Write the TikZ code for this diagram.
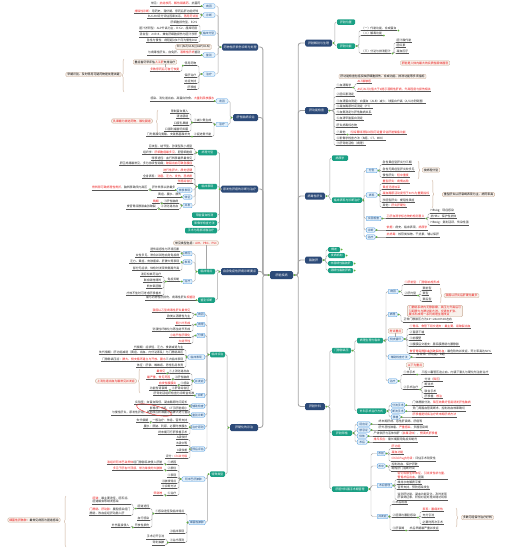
\documentclass[tikz,border=0pt]{standalone}
\usepackage{fontspec}
\setmainfont{Noto Sans CJK SC}
\usetikzlibrary{positioning}
\usetikzlibrary{calc}
\usetikzlibrary{decorations.pathreplacing}

\definecolor{mmnavy}{RGB}{44,74,120}
\definecolor{mmteal}{RGB}{26,160,132}
\definecolor{tagfill}{RGB}{224,239,251}
\definecolor{tagline}{RGB}{70,150,222}
\definecolor{tagtext}{RGB}{25,70,125}
\definecolor{notefill}{RGB}{248,241,235}
\definecolor{noteline}{RGB}{200,172,150}
\definecolor{hlred}{RGB}{235,25,25}
\definecolor{ulgray}{RGB}{85,85,85}
\definecolor{conngray}{RGB}{165,165,165}
\definecolor{dotgreen}{RGB}{96,178,62}

\newcommand{\mmfont}{\fontsize{2.9pt}{3.5pt}\selectfont}
\newcommand{\rtx}[1]{\textcolor{hlred}{#1}}
% child hangs off a bracket #1pt beside it
\newcommand{\lnk}[3][2]{\draw[conn] (#2) -| ($(#3)+(#1,0)$) -- (#3);}
\newcommand{\rnk}[3][2]{\draw[conn] (#2) -| ($(#3)+(-#1,0)$) -- (#3);}
\newcommand{\gdot}[1]{\fill[dotgreen] (#1) circle (1pt);}

\tikzset{
  mainbox/.style={fill=mmnavy, text=white, rounded corners=1.5pt, font=\fontsize{3pt}{3.5pt}\selectfont,
    inner xsep=1.5pt, inner ysep=0pt, minimum height=7pt},
  subbox/.style={fill=mmteal, text=white, rounded corners=1.2pt, font=\mmfont,
    inner xsep=1.2pt, inner ysep=0pt, minimum height=5.5pt},
  tag/.style={draw=tagline, fill=tagfill, text=tagtext, line width=0.35pt, rounded corners=1pt,
    font=\fontsize{2.8pt}{3.2pt}\selectfont, inner xsep=1.2pt, inner ysep=0pt, minimum height=4.5pt},
  note/.style={draw=noteline, fill=notefill, line width=0.35pt, rounded corners=1.2pt, font=\mmfont,
    inner xsep=1.5pt, inner ysep=0.9pt, align=left},
  leaf/.style={font=\mmfont, text=black!85, inner xsep=0.5pt, inner ysep=0.6pt, align=left,
    append after command={(\tikzlastnode.south west) edge[uline] (\tikzlastnode.south east)}},
  lleaf/.style={leaf, anchor=south east},
  rleaf/.style={leaf, anchor=south west},
  uline/.style={draw=ulgray, line width=0.5pt},
  conn/.style={draw=conngray, line width=0.45pt, rounded corners=1.5pt},
  spine/.style={draw=conngray, line width=0.9pt, rounded corners=2.5pt},
  brc/.style={draw=noteline, line width=0.35pt, decorate, decoration={brace, amplitude=1.8pt}},
}

\begin{document}
\begin{tikzpicture}[x=1pt, y=-1pt]
\useasboundingbox (0,0) rectangle (505,552);

% centre and main topics
\node[mainbox, minimum width=23pt, minimum height=8pt] (root) at (281.5,275) {肝脏疾病};
\node[mainbox, minimum width=36pt] (L1) at (240,47) {药物性肝损伤诊断与处理};
\node[mainbox, minimum width=25pt] (L2) at (245.5,117.5) {肝性脑病诊治};
\node[mainbox, minimum width=37pt] (L3) at (239.5,189) {原发性肝癌的诊断与治疗};
\node[mainbox, minimum width=37pt] (L4) at (239.5,271.5) {自身免疫性肝病诊断要点};
\node[mainbox, minimum width=28pt] (L5) at (244,427.5) {肝硬化的诊治};
\node[mainbox, minimum width=27pt] (R1) at (318.5,43) {肝脏解剖与生理};
\node[mainbox, minimum width=23pt] (R2) at (316.5,110.5) {肝功能检查};
\node[mainbox, minimum width=20pt] (R3) at (315,196) {病毒性肝炎};
\node[mainbox, minimum width=17pt] (R4) at (313.5,260) {脂肪肝};
\node[mainbox, minimum width=20pt] (R5) at (315,406.5) {肝脏外科};
\foreach \n in {L1,L2,L3,L4,L5} {\draw[spine] (root.west) -- ++(-7,0) |- (\n.east);}
\foreach \n in {R1,R2,R3,R4,R5} {\draw[spine] (root.east) -- ++(5,0) |- (\n.west);}

% 药物性肝损伤
\node[tag, minimum width=12pt] (L1a) at (209,6) {病因};
\node[tag, minimum width=12pt] (L1b) at (209,15) {诊断};
\node[tag, minimum width=13pt] (L1c) at (208.5,33) {临床分型};
\node[tag, minimum width=12pt] (L1d) at (209,55) {鉴别};
\node[tag, minimum width=12pt] (L1e) at (209,74) {治疗};
\foreach \n in {a,b,c,d,e} {\lnk[3]{L1.west}{L1\n.east}}
\node[lleaf] (L1a1) at (201,6) {常见：\rtx{抗结核药、解热镇痛药}、抗菌药};
\draw[conn] (L1a.west) -- (L1a1.south east);
\foreach \y/\txt [count=\i] in {13.5/{\rtx{排除性诊断}：用药史、潜伏期、停药后肝功能好转},
    18.5/{RUCAM评分评估因果关系，\rtx{再用药试验}}}
  {\node[lleaf] (L1b\i) at (199,\y) {\txt}; \lnk{L1b.west}{L1b\i.south east}}
\foreach \y/\txt [count=\i] in {25/{肝细胞损伤型，R≥5},
    31/{胆汁淤积型：ALP升高为主，R≤2，瘙痒明显},
    37/{混合型：2<R<5，兼有肝细胞损伤与胆汁淤积},
    42.5/{急性与慢性：病程超过6个月为慢性DILI}}
  {\node[lleaf] (L1c\i) at (198,\y) {\txt}; \lnk{L1c.west}{L1c\i.south east}}
\node[note] (L1n1) at (193.5,47) {R＝(ALT/ULN)/(ALP/ULN)};
\node[lleaf] (L1d1) at (201,55) {与病毒性肝炎、自免肝、\rtx{酒精性肝病}鉴别};
\draw[conn] (L1d.west) -- (L1d1.south east);
\foreach \y/\txt [count=\i] in {65.5/停用药物, 77.5/保肝治疗, 83.5/对症支持, 89.5/肝移植}
  {\node[lleaf] (L1e\i) at (197,\y) {\txt}; \lnk{L1e.west}{L1e\i.south east}}
\node[lleaf] (L1e5) at (180,71.5) {\rtx{多数停药后可自行恢复}};
\lnk{L1e1.south west}{L1e5.south east}
\node[note] (L1n2) at (155,62) {重症者尽早评估\rtx{人工肝}支持治疗};
\draw[conn] (L1e5.north) -- (L1e5.north |- L1n2.south);
\draw[brc] (124,92) -- (124,59);
\node[note] (L1n3) at (93.5,74.5) {早期识别、及时停用可疑药物是处理关键};

% 肝性脑病
\node[tag, minimum width=12pt] (L2a) at (222,101) {诱因};
\node[tag, minimum width=12pt] (L2b) at (222,124.5) {治疗};
\foreach \n in {a,b} {\lnk{L2.west}{L2\n.east}}
\node[lleaf] (L2a1) at (215,101) {感染、消化道出血、高蛋白饮食、\rtx{大量利尿放腹水}};
\draw[conn] (L2a.west) -- (L2a1.south east);
\node[lleaf] (L2b1) at (212,122.5) {①减少氨生成};
\node[lleaf] (L2b2) at (212,136.5) {②促进氨代谢};
\foreach \n in {1,2} {\lnk{L2b.west}{L2b\n.south east}}
\foreach \y/\txt [count=\i] in {113.5/限制蛋白摄入, 118.5/清洁肠道, 125.5/口服乳果糖, 131.5/口服利福昔明抑菌}
  {\node[lleaf] (L2c\i) at (189,\y) {\txt}; \lnk{L2b1.south west}{L2c\i.south east}}
\draw[brc] (158,133) -- (158,110);
\node[note] (L2n) at (132,121) {\rtx{乳果糖为首选药物，酸化肠道}};
\node[lleaf] (L2b3) at (191,136.5) {门冬氨酸鸟氨酸、支链氨基酸补充};
\draw[conn] (L2b2.south west) -- (L2b3.south east);

% 原发性肝癌
\node[subbox, minimum width=19pt] (L3a) at (207.5,152.5) {病理分型};
\node[subbox, minimum width=19pt] (L3b) at (207.5,186.5) {临床表现};
\node[subbox, minimum width=25pt] (L3c) at (204.5,215) {甲胎蛋白检测};
\node[subbox, minimum width=25pt] (L3d) at (204.5,223) {影像学检查方法};
\node[subbox, minimum width=32pt] (L3e) at (201,230.5) {手术与局部消融治疗};
\foreach \n in {a,b,c,d,e} {\lnk[2.5]{L3.west}{L3\n.east}}
\foreach \y/\txt [count=\i] in {148.5/巨块型、结节型、弥漫型及小癌型,
    154.5/{组织学：\rtx{肝细胞癌最多见}，胆管细胞癌},
    160.5/转移途径：血行转移最早最常见}
  {\node[lleaf] (L3a\i) at (193,\y) {\txt}; \lnk{L3a.west}{L3a\i.south east}}
\foreach \y/\txt [count=\i] in {165.5/{肝区疼痛最常见，多为持续性钝痛；\rtx{破裂出血可致急腹症}},
    172.5/{\rtx{进行性肝大，质地坚硬}},
    178.5/{全身表现：\rtx{消瘦、乏力、发热、恶病质}},
    183.5/{\rtx{伴癌综合征}}}
  {\node[lleaf] (L3b\i) at (193,\y) {\txt}; \lnk{L3b.west}{L3b\i.south east}}
\node[tag, minimum width=15pt] (L3t1) at (184.5,190) {转移表现};
\node[tag, minimum width=9pt] (L3t2) at (187.5,197) {体征};
\node[tag, minimum width=9pt] (L3t3) at (187.5,205.5) {并发};
\foreach \n in {1,2,3} {\lnk[3]{L3b.west}{L3t\n.east}}
\node[lleaf] (L3p1) at (176,190) {肝外转移以肺最多};
\draw[conn] (L3t1.west) -- (L3p1.south east);
\node[lleaf] (L3p2) at (148,190) {\rtx{骨转移可致病理性骨折}，脑转移致颅内高压};
\lnk{L3p1.south west}{L3p2.south east}
\node[lleaf] (L3p3) at (182,197) {黄疸、腹水、脾大};
\draw[conn] (L3t2.west) -- (L3p3.south east);
\node[lleaf] (L3q1) at (179,203.5) {①肝性脑病};
\node[lleaf] (L3q2) at (179,209) {②消化道出血};
\foreach \n in {1,2} {\lnk{L3t3.west}{L3q\n.south east}}
\node[lleaf] (L3q3) at (159.5,203.5) {\rtx{晚期}};
\node[lleaf] (L3q4) at (156.5,209) {食管胃底静脉曲张破裂};
\lnk{L3q1.south west}{L3q3.south east}
\lnk{L3q2.south west}{L3q4.south east}

% 自身免疫性肝病
\node[subbox, minimum width=17pt] (L4a) at (206.5,271.5) {临床特点};
\node[subbox, minimum width=17pt] (L4b) at (206.5,300) {鉴别诊断};
\foreach \n in {a,b} {\lnk[2.5]{L4.west}{L4\n.east}}
\node[note] (L4n) at (196,243) {常见类型包括：\rtx{AIH、PBC、PSC}};
\draw[conn] (L4a.north) -- (L4a.north |- L4n.south);
\node[tag, minimum width=9pt] (L4t1) at (187.5,253.5) {病因};
\node[tag, minimum width=9pt] (L4t2) at (187.5,262) {表现};
\node[tag, minimum width=9pt] (L4t3) at (187.5,281.5) {治疗};
\foreach \n in {1,2,3} {\lnk[3]{L4a.west}{L4t\n.east}}
\foreach \y/\txt [count=\i] in {251.5/遗传易感性与环境因素, 257.5/女性多见，常合并其他自身免疫病}
  {\node[lleaf] (L4u\i) at (180,\y) {\txt}; \lnk{L4t1.west}{L4u\i.south east}}
\foreach \y/\txt [count=\i] in {263.5/乏力、黄疸、皮肤瘙痒、肝脾大等表现, 270.5/部分无症状，体检时发现转氨酶升高}
  {\node[lleaf] (L4v\i) at (180,\y) {\txt}; \lnk{L4t2.west}{L4v\i.south east}}
\node[lleaf] (L4m) at (180,281.5) {免疫抑制};
\draw[conn] (L4t3.west) -- (L4m.south east);
\foreach \y/\txt [count=\i] in {276.5/泼尼松单药治疗, 282.5/联合硫唑嘌呤, 288.5/熊去氧胆酸, 295.5/疗效不佳时可考虑肝移植术}
  {\node[lleaf] (L4w\i) at (162,\y) {\txt}; \lnk{L4m.south west}{L4w\i.south east}}
\node[lleaf] (L4b1) at (196,300) {需与药物性肝损伤、病毒性肝炎\rtx{相鉴别}};
\draw[conn] (L4b.west) -- (L4b1.south east);

% 肝硬化
\node[subbox, minimum width=15pt] (L5a) at (217.5,354.5) {临床诊治};
\node[subbox, minimum width=15pt] (L5b) at (217.5,474) {特殊类型};
\foreach \n in {a,b} {\lnk{L5.west}{L5\n.east}}
\foreach \y/\w/\txt [count=\i] in {314.5/8/病因, 324.5/8/病理, 335.5/8/分类, 357/17/临床表现,
    381/10/并发症, 395.5/9/诊断, 406/13/辅助检查, 415/13/鉴别诊断, 427/13/治疗原则, 449/13/预后评估}
  {\node[tag, minimum width=\w pt, anchor=east] (L5t\i) at (205,\y) {\txt}; \lnk{L5a.west}{L5t\i.east}}
\foreach \y/\txt [count=\i] in {312.5/{\rtx{我国以乙型病毒性肝炎最常见}}, 318.5/欧美以酒精性为主}
  {\node[lleaf] (L5u\i) at (191,\y) {\txt}; \lnk{L5t1.west}{L5u\i.south east}}
\foreach \y/\txt [count=\i] in {325.5/{\rtx{假小叶形成}}, 331.5/弥漫性纤维化与再生结节形成}
  {\node[lleaf] (L5v\i) at (191,\y) {\txt}; \lnk{L5t2.west}{L5v\i.south east}}
\foreach \y/\txt [count=\i] in {337.5/{\rtx{小结节性肝硬化}}, 343.5/{\rtx{大结节性}}}
  {\node[lleaf] (L5w\i) at (191,\y) {\txt}; \lnk{L5t3.west}{L5w\i.south east}}
\foreach \y/\txt [count=\i] in {349.5/代偿期：症状轻，乏力、食欲减退为主,
    354.5/失代偿期：肝功能减退（黄疸、出血、内分泌紊乱）与门静脉高压,
    361.5/{门静脉高压症：\rtx{脾大、侧支循环建立与开放、腹水}三大临床表现},
    367.5/体征：肝掌、蜘蛛痣、男性乳房发育}
  {\node[lleaf] (L5x\i) at (184,\y) {\txt}; \lnk{L5t4.west}{L5x\i.south east}}
\foreach \y/\txt [count=\i] in {373.5/①上消化道出血, 379.5/②肝性脑病, 385.5/③感染, 390.5/④肝肾综合征}
  {\node[lleaf] (L5c\i) at (190,\y) {\txt}; \lnk{L5t5.west}{L5c\i.south east}}
\foreach \y/\x/\txt [count=\i] in {373.5/166/{\rtx{最常见}}, 379.5/171/{\rtx{最严重，常见死因}},
    385.5/177/{\rtx{自发性腹膜炎}}, 390.5/168/功能性肾衰竭}
  {\node[lleaf] (L5d\i) at (\x,\y) {\txt}; \lnk{L5c\i.south west}{L5d\i.south east}}
\draw[brc] (140,393) -- (140,369);
\node[note] (L5n1) at (116,381) {\rtx{上消化道出血为最常见并发症}};
\node[lleaf] (L5e1) at (195,395.5) {肝穿刺活组织检查为诊断金标准};
\draw[conn] (L5t6.west) -- (L5e1.south east);
\foreach \y/\txt [count=\i] in {404.5/实验室：白蛋白降低，凝血酶原时间延长, 410.5/影像学：B超、CT示肝脏缩小}
  {\node[lleaf] (L5f\i) at (188,\y) {\txt}; \lnk{L5t7.west}{L5f\i.south east}}
\node[lleaf] (L5g1) at (191,415) {与慢性肝炎、原发性肝癌、其他原因所致腹水及脾大进行鉴别};
\draw[conn] (L5t8.west) -- (L5g1.south east);
\draw[hlred, line width=0.35pt, rotate around={-14:(154,410)}] (154,410) ellipse [x radius=18pt, y radius=4.5pt];
\foreach \y/\txt [count=\i] in {422.5/一般治疗：休息、营养支持, 428.5/腹水：限钠、利尿，必要时放腹水, 434.5/终末期可行肝移植手术}
  {\node[lleaf] (L5h\i) at (188,\y) {\txt}; \lnk{L5t9.west}{L5h\i.south east}}
\node[lleaf] (L5h4) at (149,422.5) {失代偿期};
\lnk{L5h1.south west}{L5h4.south east}
\foreach \y/\txt [count=\i] in {439.5/A级较好, 445.5/B级中等, 452.5/C级较差, 458.5/{评分：\rtx{Child分级}}}
  {\node[lleaf] (L5m\i) at (188,\y) {\txt}; \lnk{L5t10.west}{L5m\i.south east}}

\node[tag, minimum width=23pt] (L5b1) at (193.5,479) {阿米巴肝脓肿};
\node[tag, minimum width=16pt] (L5b2) at (197,522.5) {细菌性脓肿};
\foreach \n in {1,2} {\lnk{L5b.west}{L5b\n.east}}
\foreach \y/\txt [count=\i] in {464.5/①病因, 470.5/②部位, 477.5/③表现, 483.5/④脓液特点, 488.5/⑤诊断方法, 495.5/⑥治疗}
  {\node[lleaf] (L5i\i) at (177,\y) {\txt}; \lnk{L5b1.west}{L5i\i.south east}}
\node[lleaf] (L5i7) at (163,464.5) {\rtx{溶组织阿米巴滋养体}经门静脉系统侵入肝脏};
\node[lleaf] (L5i8) at (163,470.5) {\rtx{多见于肝右叶顶部，常为单发的大脓肿}};
\node[lleaf] (L5i9) at (163,495.5) {\rtx{甲硝唑}};
\lnk{L5i1.south west}{L5i7.south east}
\lnk{L5i2.south west}{L5i8.south east}
\lnk{L5i6.south west}{L5i9.south east}
\foreach \y/\txt [count=\i] in {513.5/①感染途径及临床特点, 533.5/②临床表现, 542.5/③治疗原则}
  {\node[lleaf] (L5j\i) at (185,\y) {\txt}; \lnk{L5b2.west}{L5j\i.south east}}
\foreach \y/\txt [count=\i] in {508.5/胆道途径, 520.5/血行感染, 527.5/开放性损伤}
  {\node[lleaf] (L5k\i) at (150,\y) {\txt}; \lnk{L5j1.south west}{L5k\i.south east}}
\node[lleaf] (L5k4) at (131,504) {\rtx{胆道}：最主要途径，胆石症、\\胆道蛔虫等继发感染};
\node[lleaf] (L5k5) at (131,515.5) {\rtx{门静脉}、\rtx{肝动脉}：腹腔感染经门\\静脉，败血症经肝动脉入肝};
\foreach \n in {4,5} {\lnk{L5k1.south west}{L5k\n.south east}}
\node[lleaf] (L5k6) at (130,527.5) {外伤直接侵入};
\lnk{L5k3.south west}{L5k6.south east}
\node[lleaf] (L5k7) at (165,539) {手术切开引流};
\node[lleaf] (L5k8) at (165,545) {穿刺抽脓};
\foreach \n in {7,8} {\lnk{L5j3.south west}{L5k\n.south east}}
\draw[brc] (66,547) -- (66,496);
\node[note] (L5n2) at (34,520) {\rtx{细菌性肝脓肿}：最常见病因为胆道感染};

% 肝脏解剖与生理
\node[subbox, minimum width=18pt] (R1a) at (346,22) {肝脏位置};
\node[subbox, minimum width=18pt] (R1b) at (346,46) {肝脏功能};
\foreach \n in {a,b} {\rnk{R1.east}{R1\n.west}}
\foreach \y/\txt [count=\i] in {30.5/（一）代谢功能，合成蛋白, 35.5/（二）解毒功能, 53.5/（三）分泌与排泄胆汁}
  {\node[rleaf] (R1i\i) at (361,\y) {\txt}; \rnk{R1b.east}{R1i\i.south west}}
\foreach \y/\txt [count=\i] in {42.5/胆汁酸代谢, 47.5/胆红素, 53.5/凝血因子}
  {\node[rleaf] (R1j\i) at (396,\y) {\txt}; \rnk{R1i3.south east}{R1j\i.south west}}
\node[note] (R1n) at (425,63) {\rtx{肝脏是人体内最大的实质性腺体器官}};

% 肝功能检查
\node[note] (R2n) at (382.5,76.5) {肝功能检查包括反映肝细胞损伤、合成功能、排泄功能等多项指标};
\foreach \y/\txt [count=\i] in {87.5/①血清酶学, 96.5/②胆红素测定,
    103.5/{③血清蛋白测定：白蛋白（ALB）减少，球蛋白升高（A/G比例倒置）},
    108.5/{④凝血酶原时间测定（PT）}, 114.5/⑤血氨测定与肝性脑病关系, 120.5/⑥血清甲胎蛋白测定,
    127.5/肝炎病毒标志物, 134.5/⑦其他, 140.5/{⑧影像学检查方法（B超、CT、MRI）}, 145.5/{⑨肝穿刺活检（病理）}}
  {\node[rleaf] (R2r\i) at (336,\y) {\txt}; \rnk{R2.east}{R2r\i.south west}}
\foreach \y/\txt [count=\i] in {83.5/{\rtx{ALT最敏感}}, 91.5/{\rtx{AST/ALT比值大于2提示酒精性肝病，升高程度与损伤相关}}}
  {\node[rleaf] (R2s\i) at (357,\y) {\txt}; \rnk{R2r1.south east}{R2s\i.south west}}
\node[rleaf] (R2s3) at (350,134.5) {\rtx{吲哚菁绿清除试验可定量评估肝脏储备功能}};
\draw[conn] (R2r8.south east) -- (R2s3.south west);

% 病毒性肝炎
\node[subbox, minimum width=16pt] (R3a) at (340,158) {病原学};
\node[subbox, minimum width=30pt] (R3b) at (347,200) {临床表现与诊断治疗};
\foreach \n in {a,b} {\rnk{R3.east}{R3\n.west}}
\foreach \y/\w/\txt [count=\i] in {170.5/11/分型, 195/11/表现, 218.5/15/实验检查, 230/9/诊断, 237/9/治疗}
  {\node[tag, minimum width=\w pt, anchor=west] (R3t\i) at (366,\y) {\txt}; \rnk{R3b.east}{R3t\i.west}}
\foreach \y/\txt [count=\i] in {164.5/急性黄疸型肝炎分三期, 171.5/急性无黄疸型肝炎较多见, 177.5/{慢性肝炎：\rtx{轻中重度}}}
  {\node[rleaf] (R3u\i) at (382,\y) {\txt}; \rnk{R3t1.east}{R3u\i.south west}}
\draw[brc] (418,161) -- (418,179);
\node[note] (R3n1) at (431,170) {按病程分型};
\foreach \y/\txt [count=\i] in {183.5/{\rtx{重型肝炎：病情凶险}}, 189.5/{\rtx{黄疸迅速加深}},
    195.5/{\rtx{凝血酶原活动度低于40\%为重要指标}}, 202.5/淤胆型肝炎：梗阻性黄疸, 207.5/{其他：\rtx{肝炎肝硬化}}}
  {\node[rleaf] (R3v\i) at (382,\y) {\txt}; \rnk{R3t2.east}{R3v\i.south west}}
\draw[brc] (432,180) -- (432,208);
\node[note] (R3n2) at (468.5,194.5) {重型肝炎以肝衰竭表现为主，病死率高};
\node[rleaf] (R3w1) at (386,218.5) {\rtx{乙肝血清学标志物的检测意义}};
\draw[conn] (R3t3.east) -- (R3w1.south west);
\foreach \y/\txt [count=\i] in {213.5/HBsAg：现症感染, 218.5/抗HBs：保护性抗体, 225.5/HBeAg：复制活跃，传染性强}
  {\node[rleaf] (R3x\i) at (430,\y) {\txt}; \rnk{R3w1.south east}{R3x\i.south west}}
\node[rleaf] (R3y1) at (386,230) {\rtx{依据}：病史、临床表现、\rtx{病原学}};
\node[rleaf] (R3y2) at (386,237) {\rtx{抗病毒}：核苷类似物、干扰素，辅以保肝};
\draw[conn] (R3t4.east) -- (R3y1.south west);
\draw[conn] (R3t5.east) -- (R3y2.south west);

% 脂肪肝
\foreach \y/\w/\txt [count=\i] in {249.5/12/概述, 255.5/17/发病机制, 263.5/25/非酒精性脂肪肝, 270.5/25/酒精性脂肪肝病}
  {\node[subbox, minimum width=\w pt, minimum height=5pt, anchor=west] (R4\i) at (328,\y) {\txt}; \rnk{R4.east}{R4\i.west}}

% 肝脏外科
\node[subbox, minimum width=19pt] (R5a) at (341.5,350.5) {门静脉高压};
\node[subbox, minimum width=20pt] (R5b) at (342,433) {肝脏移植};
\node[subbox, minimum width=36pt] (R5c) at (350,489) {肝胆外科围手术期管理};
\foreach \n in {a,b,c} {\rnk{R5.east}{R5\n.west}}
\node[subbox, minimum width=26pt] (R5d) at (370,340.5) {病理生理与临床};
\node[subbox, minimum width=29pt] (R5e) at (371.5,411) {外科手术治疗方式};
\foreach \n in {d,e} {\rnk{R5a.east}{R5\n.west}}
\foreach \y/\w/\txt [count=\i] in {291.5/10/病因, 314.5/9/病理, 339/15/侧支循环, 357/22/辅助检查方法, 381/9/治疗}
  {\node[tag, minimum width=\w pt, anchor=west] (R5p\i) at (388,\y) {\txt}; \rnk{R5d.east}{R5p\i.west}}
\node[rleaf] (R5q1) at (404,284.5) {\rtx{①肝前型：门静脉血栓形成}};
\node[rleaf] (R5q2) at (404,295.5) {②肝内型};
\foreach \n in {1,2} {\rnk{R5p1.east}{R5q\n.south west}}
\foreach \y/\txt [count=\i] in {290.5/窦前型, 295.5/窦型, 301.5/窦后型}
  {\node[rleaf] (R5r\i) at (422,\y) {\txt}; \rnk{R5q2.south east}{R5r\i.south west}}
\draw[brc] (440,288) -- (440,303);
\node[note] (R5n1) at (461.5,295.5) {\rtx{我国以肝炎后肝硬化最多}};
\node[note] (R5n2) at (435,311) {\rtx{门静脉系统内无静脉瓣，其压力升高后可}\\\rtx{引起脾大与脾功能亢进、交通支扩张、}\\\rtx{腹水形成等一系列病理生理改变}};
\node[rleaf] (R5s1) at (403,322) {正常门静脉压力为13～24cmH2O左右};
\rnk{R5p2.east}{R5s1.south west}
\node[note] (R5n3) at (395.5,331) {\rtx{考试重点}};
\draw[conn] (R5p3.north) -- (R5p3.north |- R5n3.south);
\foreach \y/\txt [count=\i] in {328.5/{\rtx{①胃底、食管下段交通支：最主要，易破裂出血}}, 334.5/②直肠下端, 340.5/③前腹壁,
    346.5/④腹膜后交通支：肠系膜静脉与腰静脉, 353.5/{\rtx{食管胃底静脉曲张破裂出血}：最危险的并发症，死亡率高达50\%}}
  {\node[rleaf] (R5t\i) at (409,\y) {\txt}; \rnk{R5p3.east}{R5t\i.south west}}
\node[rleaf] (R5u1) at (416,357) {血常规、肝功能、B超};
\draw[conn] (R5p4.east) -- (R5u1.south west);
\node[note] (R5n4) at (415,365) {\rtx{以下为重点}};
\node[rleaf] (R5v1) at (403,374.5) {①非手术};
\node[rleaf] (R5v2) at (403,389.5) {②手术治疗};
\foreach \n in {1,2} {\rnk{R5p5.east}{R5v\n.south west}}
\draw[conn] (R5v1.north) -- (R5v1.north |- R5n4.south);
\node[rleaf] (R5v3) at (421,374.5) {三腔二囊管压迫止血、内镜下套扎与硬化剂注射治疗};
\draw[conn] (R5v1.south east) -- (R5v3.south west);
\foreach \y/\txt [count=\i] in {381.5/{分流（\rtx{降压}）}, 386.5/断流术, 393.5/联合手术, 398.5/{肝移植：\rtx{根治}}}
  {\node[rleaf] (R5w\i) at (424,\y) {\txt}; \rnk{R5v2.south east}{R5w\i.south west}}
\foreach \y/\w/\txt [count=\i] in {405/13/分流手术, 411/13/断流手术, 417/9/移植}
  {\node[tag, minimum width=\w pt, anchor=west] (R5x\i) at (391,\y) {\txt}; \rnk{R5e.east}{R5x\i.west}}
\foreach \y/\txt [count=\i] in {405/{门体静脉分流，\rtx{降压效果好但易诱发肝性脑病}},
    411/贲门周围血管离断术，控制出血效果确切, 417/{\rtx{肝移植是彻底治疗终末期肝病方法}}}
  {\node[rleaf] (R5y\i) at (412,\y) {\txt}; \draw[conn] (R5x\i.east) -- (R5y\i.south west);}
\foreach \y/\w/\txt [count=\i] in {424/13/适应证, 430/13/禁忌证, 436/10/供体, 442/10/术后}
  {\node[tag, minimum width=\w pt, anchor=west] (R5z\i) at (357,\y) {\txt}; \rnk{R5b.east}{R5z\i.west}}
\foreach \y/\x/\txt [count=\i] in {424/378/终末期肝病、急性肝衰竭、肝癌等, 430/378/{肝外恶性肿瘤、\rtx{严重感染}、多器官衰竭},
    436/373/{尸体供肝与活体供肝（\rtx{亲属活体}），\rtx{劈离式肝移植}}, 442/373/{\rtx{排斥反应}：需长期服用免疫抑制剂}}
  {\node[rleaf] (R5zz\i) at (\x,\y) {\txt}; \draw[conn] (R5z\i.east) -- (R5zz\i.south west);}
\foreach \y/\w/\txt [count=\i] in {453.5/8/术前, 466/8/术中, 485.5/15/术后管理, 516.5/10/并发症}
  {\node[tag, minimum width=\w pt, anchor=west] (R5g\i) at (377,\y) {\txt}; \rnk[6]{R5c.east}{R5g\i.west}}
\foreach \y/\txt [count=\i] in {448.5/{\rtx{肝功能}}, 454.5/{\rtx{凝血功能}}, 461.5/{\rtx{Child-Pugh分级}：评估手术耐受性}}
  {\node[rleaf] (R5h\i) at (391,\y) {\txt}; \rnk{R5g1.east}{R5h\i.south west}}
\foreach \y/\txt [count=\i] in {466.5/控制出血，保护肝脏, 471/缩短肝门阻断时间}
  {\node[rleaf] (R5i\i) at (391,\y) {\txt}; \rnk{R5g2.east}{R5i\i.south west}}
\foreach \y/\txt [count=\i] in {479.5/{\rtx{密切观察生命体征、引流液性状与量，}\\\rtx{警惕术后出血}、胆漏},
    484.5/维持水电解质平衡, 489.5/营养支持，预防感染发生,
    500/{监测肝功能、凝血功能变化，及时发现\\肝衰竭征象，积极对症处理并随访观察}}
  {\node[rleaf] (R5j\i) at (397,\y) {\txt}; \rnk{R5g3.east}{R5j\i.south west}}
\foreach \y/\txt [count=\i] in {504.5/①术后出血, 517.5/②胆漏与腹腔感染, 530.5/③肝衰竭}
  {\node[rleaf] (R5k\i) at (392,\y) {\txt}; \rnk{R5g4.east}{R5k\i.south west}}
\foreach \y/\txt [count=\i] in {511.5/{\rtx{表现：腹痛发热}}, 517.5/充分引流, 524.5/必要时再次手术}
  {\node[rleaf] (R5l\i) at (422,\y) {\txt}; \rnk{R5k2.south east}{R5l\i.south west}}
\draw[brc] (456,508) -- (456,527);
\node[note] (R5n5) at (477.5,517.5) {多数可经保守治疗好转};
\node[rleaf] (R5l4) at (409,530.5) {术后早期最严重并发症};
\draw[conn] (R5k3.south east) -- (R5l4.south west);

% collapse dots
\foreach \n in {root,L1,L2,L3,L4,L5,L1a,L1b,L1c,L1d,L1e,L2a,L2b,L3a,L3b,L3t1,L3t2,L3t3,L4a,L4b,L4t1,L4t2,L4t3,
    L5a,L5b,L5t1,L5t2,L5t3,L5t4,L5t5,L5t6,L5t7,L5t8,L5t9,L5t10,L5b1,L5b2}
  {\gdot{$(\n.west)+(-1.3,0)$}}
\foreach \n in {L1e1,L2b1,L2b2,L3p1,L3q1,L3q2,L4m,L5c1,L5c2,L5c3,L5c4,L5h1,L5i1,L5i2,L5i6,L5j1,L5j3,L5k1,L5k3}
  {\gdot{$(\n.south west)+(-1.2,0)$}}
\foreach \n in {root,R1,R2,R3,R4,R5,R1b,R3b,R3t1,R3t2,R3t3,R3t4,R3t5,R41,R42,R43,R44,R5a,R5b,R5c,R5d,R5e,
    R5p1,R5p2,R5p3,R5p4,R5p5,R5x1,R5x2,R5x3,R5z1,R5z2,R5z3,R5z4,R5g1,R5g2,R5g3,R5g4}
  {\gdot{$(\n.east)+(1.3,0)$}}
\foreach \n in {R1i1,R1i2,R1i3,R2r1,R2r8,R3w1,R5q2,R5v1,R5v2,R5k2,R5k3}
  {\gdot{$(\n.south east)+(1.2,0)$}}
\end{tikzpicture}
\end{document}
